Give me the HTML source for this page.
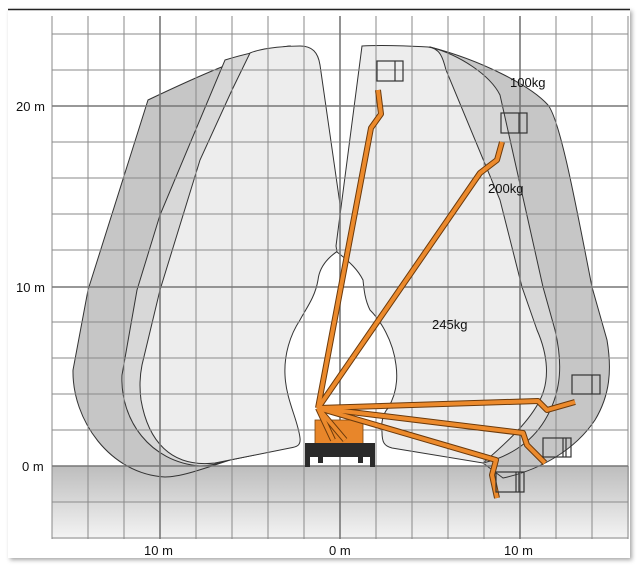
<!DOCTYPE html><html><head><style>body{margin:0;background:#fff}svg{display:block}</style></head><body>
<svg width="639" height="567" xmlns="http://www.w3.org/2000/svg" font-family="Liberation Sans, sans-serif">
<defs><linearGradient id="g" x1="0" y1="0" x2="0" y2="1"><stop offset="0" stop-color="#bdbdbd"/><stop offset="1" stop-color="#f4f4f4"/></linearGradient>
<filter id="sh"><feDropShadow dx="2" dy="2" stdDeviation="2" flood-opacity="0.35"/></filter></defs>
<rect x="8" y="9" width="622" height="549" fill="#fff" filter="url(#sh)"/>
<line x1="8" y1="9.5" x2="630" y2="9.5" stroke="#222" stroke-width="1.5"/>
<rect x="52" y="466" width="577" height="73" fill="url(#g)"/>
<!-- envelopes -->
<g stroke="#333" stroke-width="1">
<path d="M148,100 C190,80 250,52 290,46 L250,200 L240,440 L288,448 L230,460 C200,470 180,477 165,477 C110,474 72,420 73,370 L88,290 Z" fill="#c6c6c6"/>
<path d="M225,60 C250,52 280,47 290,46 L250,200 L240,440 L288,448 L225,461 C215,465 208,466 200,466 C150,462 120,420 122,375 L137,290 L160,215 Z" fill="#d8d8d8"/>
<path d="M430,47 C480,60 530,85 548,105 C560,120 575,200 592,287 L607,340 C612,370 610,395 595,420 C575,450 540,470 503,478 L483,463 L420,200 Z" fill="#c6c6c6"/>
<path d="M430,47 C460,55 490,75 500,95 L543,287 L555,330 C562,360 563,390 545,420 C530,445 505,458 483,463 L420,200 Z" fill="#d8d8d8"/>
<path d="M250,53 C265,47 290,46 300,46 C312,46 318,52 320,65 L346,246 C335,252 320,262 318,280 C315,298 305,310 300,320 C290,335 284,355 285,375 C286,400 298,420 300,438 C301,446 296,447 290,448 L215,463 C170,468 148,440 141,400 C139,385 140,375 142,365 L160,290 L200,160 L232,90 Z" fill="#ededed"/>
<path d="M362,46 C380,45 410,46 428,47 C440,48 443,58 446,70 L500,200 L522,287 L537,330 C548,355 550,380 540,400 C530,420 510,440 483,463 L392,448 C384,446 382,442 382,432 C381,425 382,415 388,408 C396,395 398,380 396,365 C393,340 380,320 370,310 C365,300 364,290 363,280 C358,270 350,262 337,252 L336,246 Z" fill="#ededed"/>
</g>
<!-- grid -->
<g stroke="#8a8a8a" stroke-width="1">
<path d="M52,16V539M88,16V539M124,16V539M196,16V539M232,16V539M268,16V539M304,16V539M376,16V539M412,16V539M448,16V539M484,16V539M556,16V539M592,16V539M628,16V539"/>
<path d="M52,34H628M52,70H628M52,142H628M52,178H628M52,214H628M52,250H628M52,322H628M52,358H628M52,394H628M52,430H628M52,502H628M52,538H628"/>
</g>
<g stroke="#777" stroke-width="1.6"><path d="M160,16V539M340,16V539M520,16V539M52,106H628M52,287H628M52,466H628"/></g>
<!-- base -->
<rect x="315" y="420" width="48" height="26" fill="#e8862a" stroke="#7a4510" stroke-width="0.8"/>
<rect x="305" y="443" width="70" height="14" fill="#2a2a2a"/>
<rect x="305" y="450" width="5" height="17" fill="#2a2a2a"/><rect x="370" y="450" width="5" height="17" fill="#2a2a2a"/>
<rect x="318" y="455" width="5" height="8" fill="#2a2a2a"/><rect x="358" y="455" width="5" height="8" fill="#2a2a2a"/>
<!-- booms -->
<g fill="none" stroke-linejoin="round">
<g stroke="#6b3a0c" stroke-width="6">
<polyline points="318,408 371,128 381,114 378,90"/><polyline points="318,408 480,173 497,160 502,142"/>
<polyline points="318,408 538,401 547,410 575,402"/><polyline points="318,408 523,433 527,445 545,463"/>
<polyline points="318,408 496,460 492,475 497,498"/><polyline points="318,408 333,440"/><polyline points="318,408 345,440"/>
</g>
<g stroke="#ec8a2c" stroke-width="4">
<polyline points="318,408 371,128 381,114 378,90"/><polyline points="318,408 480,173 497,160 502,142"/>
<polyline points="318,408 538,401 547,410 575,402"/><polyline points="318,408 523,433 527,445 545,463"/>
<polyline points="318,408 496,460 492,475 497,498"/><polyline points="318,408 333,440"/><polyline points="318,408 345,440"/>
</g></g>
<!-- baskets -->
<g fill="none" stroke="#333" stroke-width="1.2">
<rect x="377" y="61" width="26" height="20"/><line x1="395" y1="61" x2="395" y2="81"/>
<rect x="501" y="113" width="26" height="20"/><line x1="519" y1="113" x2="519" y2="133"/>
<rect x="572" y="375" width="28" height="19"/><line x1="592" y1="375" x2="592" y2="394"/>
<rect x="543" y="438" width="28" height="19"/><line x1="563" y1="438" x2="563" y2="457"/><line x1="566" y1="438" x2="566" y2="457"/>
<rect x="496" y="472" width="28" height="20"/><line x1="516" y1="472" x2="516" y2="492"/><line x1="519" y1="472" x2="519" y2="492"/>
</g>
<g font-size="13" fill="#111">
<text x="510" y="87">100kg</text><text x="488" y="193">200kg</text><text x="432" y="329">245kg</text>
<text x="16" y="111">20 m</text><text x="16" y="292">10 m</text><text x="22" y="471">0 m</text>
<text x="144" y="555">10 m</text><text x="329" y="555">0 m</text><text x="504" y="555">10 m</text>
</g>
</svg></body></html>
